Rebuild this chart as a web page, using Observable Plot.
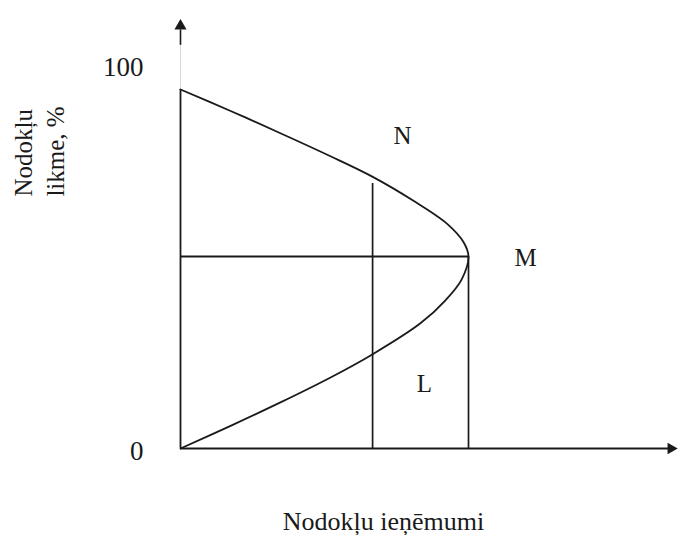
<!DOCTYPE html>
<html>
<head>
<meta charset="utf-8">
<script src="https://cdn.jsdelivr.net/npm/d3@7"></script>
<script src="https://cdn.jsdelivr.net/npm/@observablehq/plot@0.6"></script>
<style>
  html, body { margin: 0; padding: 0; background: #fff; }
  #chart svg { display: block; }
</style>
</head>
<body>
<div id="chart"></div>
<script>
// Laffer curve: tax revenue (x) vs tax rate (y, %)
const curveRevenue = [0, 17.4, 34.7, 52.1, 66.6, 83.3, 92.0, 97.6, 100, 98.3, 92.6, 80.9, 66.6, 52.1, 34.7, 17.4, 0];
const curveRate    = [0, 5.9, 12.0, 18.5, 24.5, 32.6, 38.6, 44.0, 50, 53.7, 58.5, 64.5, 70.8, 76.1, 82.1, 87.9, 93.5];

const optimalRate = 50;      // M
const maxRevenue = 100;      // revenue at M
const lowerRevenue = 66.7;   // vertical line through N / L
const lowerLineTop = 69.0;

const yTicks = [0, 100];
const yTickLabels = ["0", "100"];

const pointNames = ["N", "M", "L"];
const pointRevenue = [77.1, 119.8, 84.7];
const pointRate = [81.3, 49.7, 16.9];

const xTitle = "Nodokļu ieņēmumi";
const yTitle = "Nodokļu\nlikme, %";

const curve = curveRevenue.map((x, i) => ({x, y: curveRate[i]}));
const points = pointNames.map((name, i) => ({name, x: pointRevenue[i], y: pointRate[i]}));
const ticks = yTicks.map((v, i) => ({v, label: yTickLabels[i]}));

const ink = "#1a1a1a";
const serif = "Liberation Serif, Times New Roman, serif";

const chart = Plot.plot({
  width: 679,
  height: 535,
  x: {domain: [0, 100], range: [180, 468], axis: null},
  y: {domain: [0, 100], range: [448, 64], axis: null},
  style: {fontFamily: serif, background: "#fff"},
  marks: [
    // faint top part of y axis
    Plot.ruleX([0], {y1: 93.5, y2: 107, stroke: "#d8d8d8", strokeWidth: 1}),
    Plot.ruleX([0], {y1: 105, y2: 109, stroke: ink, strokeWidth: 1.6}),
    // axes
    Plot.ruleX([0], {y1: 0, y2: 93.5, stroke: ink, strokeWidth: 1.8}),
    Plot.ruleY([0], {x1: 0, x2: 169.5, stroke: ink, strokeWidth: 1.8}),
    Plot.dot([{x: 0, y: 110}], {x: "x", y: "y", symbol: "triangle2", r: 5.8, fill: ink, stroke: null}),
    Plot.dot([{x: 170.3, y: 0}], {x: "x", y: "y", symbol: "triangle2", r: 5.6, rotate: 90, fill: ink, stroke: null}),
    // reference lines
    Plot.ruleY([optimalRate], {x1: 0, x2: maxRevenue, stroke: ink, strokeWidth: 1.8}),
    Plot.ruleX([maxRevenue], {y1: 0, y2: optimalRate, stroke: ink, strokeWidth: 1.7}),
    Plot.ruleX([lowerRevenue], {y1: 0, y2: lowerLineTop, stroke: ink, strokeWidth: 1.7}),
    // Laffer curve
    Plot.line(curve, {x: "x", y: "y", curve: "catmull-rom", stroke: ink, strokeWidth: 1.8}),
    // tick labels
    Plot.text(ticks, {x: 0, y: "v", text: "label", dx: -37, dy: 3, textAnchor: "end", fontSize: 27, fill: ink}),
    // point labels
    Plot.text(points, {x: "x", y: "y", text: "name", fontSize: 25, fill: ink}),
    // axis titles
    Plot.text([xTitle], {x: 70.5, y: -19, text: d => d, fontSize: 26, fill: ink}),
    Plot.text([yTitle], {x: -49.7, y: 65.6, text: d => d, rotate: -90, textAnchor: "start", lineHeight: 1.3, fontSize: 25, fill: ink})
  ]
});

document.getElementById("chart").appendChild(chart);
</script>
</body>
</html>
